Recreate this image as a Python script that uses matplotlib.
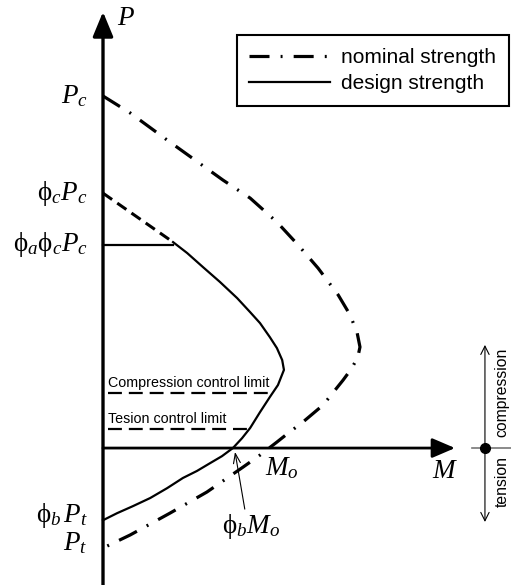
import numpy as np
import matplotlib
matplotlib.use("Agg")
import matplotlib.pyplot as plt

plt.rcParams["mathtext.fontset"] = "custom"
plt.rcParams["mathtext.rm"] = "Liberation Serif"
plt.rcParams["mathtext.it"] = "Liberation Serif:italic"
plt.rcParams["lines.scale_dashes"] = False

# P-M interaction diagram, normalised so that Pc = 1
nominal_M = [0.0, 0.077, 0.182, 0.341, 0.418, 0.494, 0.554, 0.611, 0.668, 0.702,
             0.722, 0.730, 0.724, 0.707, 0.682, 0.625, 0.568, 0.523, 0.494, 0.446,
             0.398, 0.295, 0.190, 0.077, 0.0]
nominal_P = [1.0, 0.952, 0.875, 0.761, 0.710, 0.642, 0.577, 0.511, 0.435, 0.378,
             0.327, 0.287, 0.259, 0.227, 0.193, 0.122, 0.074, 0.040, 0.017, -0.020,
             -0.054, -0.125, -0.185, -0.247, -0.284]

design_M = [0.199, 0.239, 0.284, 0.332, 0.381, 0.418, 0.446, 0.474, 0.494, 0.509,
            0.514, 0.497, 0.474, 0.446, 0.418, 0.395, 0.369, 0.338, 0.304, 0.267,
            0.227, 0.182, 0.134, 0.085, 0.040, 0.0]
design_P = [0.585, 0.554, 0.514, 0.472, 0.426, 0.386, 0.355, 0.315, 0.284, 0.250,
            0.222, 0.179, 0.145, 0.102, 0.057, 0.028, 0.0, -0.023, -0.043, -0.065,
            -0.085, -0.114, -0.142, -0.165, -0.185, -0.205]

# phi_c * Pc down to where the phi_a cap kicks in
cap_M = [0.0, 0.199]
cap_P = [0.724, 0.585]
phi_a_phi_c_Pc = 0.577

compression_limit = 0.156   # P level, ends on design curve
tension_limit = 0.054
compression_end_M = 0.483
tension_end_M = 0.418

phi_b_Mo = 0.369

BIG = 19.5
DASHDOT = (0, (14.4, 8.0, 1.4, 8.0))

fig = plt.figure(figsize=(5.11, 5.85), dpi=100)
ax = fig.add_axes([0, 0, 1, 1])
ax.set_xlim(-0.2926, 1.159)
ax.set_ylim(-0.389, 1.2727)
ax.axis("off")

# axes with filled arrow heads
ax.annotate("", xy=(0, 1.239), xytext=(0, -0.389),
            arrowprops=dict(arrowstyle="-|>,head_length=15,head_width=6.2",
                            mutation_scale=1, lw=2.4, color="k",
                            shrinkA=0, shrinkB=0))
ax.annotate("", xy=(1.0, 0), xytext=(0, 0),
            arrowprops=dict(arrowstyle="-|>,head_length=14,head_width=6",
                            mutation_scale=1, lw=2.0, color="k",
                            shrinkA=0, shrinkB=0))

nom, = ax.plot(nominal_M, nominal_P, color="k", lw=2.3, linestyle=DASHDOT,
               dash_capstyle="butt", label="nominal strength")
des, = ax.plot(design_M, design_P, color="k", lw=1.6, label="design strength")
ax.plot(cap_M, cap_P, color="k", lw=2.2, linestyle=(0, (8, 4.5)))
ax.plot([0, cap_M[1]], [phi_a_phi_c_Pc] * 2, color="k", lw=1.6)

ax.plot([0.014, compression_end_M], [compression_limit] * 2, color="k", lw=1.6,
        linestyle=(0, (10, 5)))
ax.plot([0.014, tension_end_M], [tension_limit] * 2, color="k", lw=1.6,
        linestyle=(0, (10, 5)))
ax.text(0.014, compression_limit + 0.017, "Compression control limit",
        family="Liberation Sans", fontsize=10.3, va="baseline")
ax.text(0.014, tension_limit + 0.017, "Tesion control limit",
        family="Liberation Sans", fontsize=10.3, va="baseline")

# left-side labels
lx = -0.043
ax.text(lx, 0.980, r"$P_c$", fontsize=BIG, ha="right", va="baseline")
ax.text(lx, 0.705, r"$\mathrm{\phi}_c P_c$", fontsize=BIG, ha="right", va="baseline")
ax.text(lx, 0.560, r"$\mathrm{\phi}_a\mathrm{\phi}_c P_c$", fontsize=BIG, ha="right",
        va="baseline")
ax.text(lx, -0.210, r"$\mathrm{\phi}_b\,P_t$", fontsize=BIG, ha="right", va="baseline")
ax.text(lx, -0.290, r"$P_t$", fontsize=BIG, ha="right", va="baseline")

ax.text(0.040, 1.202, r"$P$", fontsize=BIG, va="baseline")
ax.text(0.935, -0.085, r"$M$", fontsize=BIG, va="baseline")
ax.text(0.460, -0.077, r"$M_o$", fontsize=BIG, va="baseline")
ax.annotate(r"$\mathrm{\phi}_b M_o$", xy=(phi_b_Mo + 0.006, -0.011),
            xytext=(0.338, -0.241), fontsize=BIG, va="baseline",
            arrowprops=dict(arrowstyle="->,head_length=7,head_width=2.5",
                            mutation_scale=1, lw=0.8, color="k",
                            shrinkA=0, shrinkB=0, relpos=(0.4, 1.0)))

# compression / tension indicator
ax.annotate("", xy=(1.085, 0.293), xytext=(1.085, -0.210),
            arrowprops=dict(arrowstyle="<->,head_length=6,head_width=3",
                            mutation_scale=1, lw=0.8, color="k",
                            shrinkA=0, shrinkB=0))
ax.plot([1.048, 1.159], [0, 0], color="#777777", lw=1.2)
ax.plot([1.085], [0], "o", color="k", ms=7)
ax.text(1.134, 0.159, "compression", family="Liberation Sans", fontsize=11.3,
        rotation=90, ha="center", va="center")
ax.text(1.134, -0.094, "tension", family="Liberation Sans", fontsize=11.3,
        rotation=90, ha="center", va="center")

leg = ax.legend(handles=[nom, des], loc="upper right",
                bbox_to_anchor=(509 / 511, 1 - 35 / 585), bbox_transform=fig.transFigure,
                prop=dict(family="Liberation Sans", size=15), frameon=True,
                fancybox=False, edgecolor="k", framealpha=1, borderaxespad=0,
                handlelength=3.85, handletextpad=0.55, labelspacing=0.33,
                borderpad=0.62)
leg.get_frame().set_linewidth(1.5)

fig.savefig("out.png", dpi=100)
